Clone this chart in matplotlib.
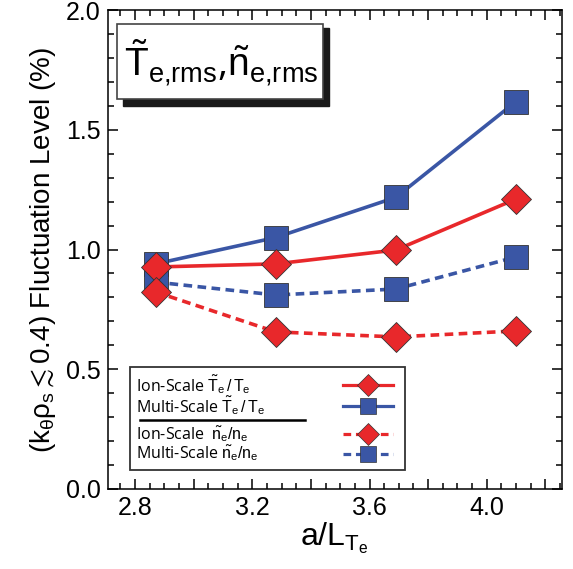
import matplotlib
matplotlib.use("Agg")
import matplotlib.pyplot as plt
from matplotlib.patches import Rectangle
from matplotlib.lines import Line2D
from matplotlib.ticker import MultipleLocator

plt.rcParams['font.family'] = ['Liberation Sans', 'DejaVu Sans']
plt.rcParams['mathtext.fontset'] = 'custom'
plt.rcParams['mathtext.rm'] = 'Liberation Sans'
plt.rcParams['mathtext.it'] = 'Liberation Sans'
plt.rcParams['mathtext.bf'] = 'Liberation Sans:bold'

# data
a_LTe = [2.87, 3.28, 3.69, 4.10]
ion_Te = [0.927, 0.94, 0.998, 1.211]
multi_Te = [0.94, 1.05, 1.218, 1.618]
ion_ne = [0.823, 0.656, 0.635, 0.66]
multi_ne = [0.864, 0.81, 0.835, 0.969]

xticks = [2.8, 3.0, 3.2, 3.4, 3.6, 3.8, 4.0, 4.2]
xticklabels = ['2.8', '', '3.2', '', '3.6', '', '4.0', '']
yticks = [0, 0.5, 1.0, 1.5, 2.0]
yticklabels = ['0.0', '0.5', '1.0', '1.5', '2.0']

labels = [r"Ion-Scale $\tilde{\mathrm{T}}_\mathrm{e}\,/\,\mathrm{T}_\mathrm{e}$",
          r"Multi-Scale $\tilde{\mathrm{T}}_\mathrm{e}\,/\,\mathrm{T}_\mathrm{e}$",
          r"Ion-Scale  $\tilde{\mathrm{n}}_\mathrm{e}/\mathrm{n}_\mathrm{e}$",
          r"Multi-Scale $\tilde{\mathrm{n}}_\mathrm{e}/\mathrm{n}_\mathrm{e}$"]

red = '#e8282b'
blue = '#3a56a5'
dash = (0, (2.4, 1.5))

fig = plt.figure(figsize=(5.73, 5.69), dpi=100)
ax = fig.add_axes([0.188, 0.1406, 0.792, 0.8418])

sq = dict(marker='s', markersize=17, markeredgecolor='#333333', markeredgewidth=0.6)
dm = dict(marker='D', markersize=15.5, markeredgecolor='#333333', markeredgewidth=0.6)

ax.plot(a_LTe, multi_Te, color=blue, lw=2.6, markerfacecolor=blue, **sq)
ax.plot(a_LTe, multi_ne, color=blue, lw=2.6, ls=dash, markerfacecolor=blue, **sq)
ax.plot(a_LTe, ion_Te, color=red, lw=2.6, markerfacecolor=red, **dm)
ax.plot(a_LTe, ion_ne, color=red, lw=2.6, ls=dash, markerfacecolor=red, **dm)

ax.set_xlim(2.707, 4.255)
ax.set_ylim(0, 2.0)
ax.set_xticks(xticks)
ax.set_xticklabels(xticklabels)
ax.xaxis.set_minor_locator(MultipleLocator(0.05))
ax.set_yticks(yticks)
ax.set_yticklabels(yticklabels)
ax.yaxis.set_minor_locator(MultipleLocator(0.1))
ax.tick_params(which='both', direction='in', top=True, right=True, labelsize=18, width=1.1)
ax.tick_params(which='major', length=7)
ax.tick_params(which='minor', length=4)
ax.tick_params(axis='x', pad=5)
ax.tick_params(axis='y', pad=5)
for s in ax.spines.values():
    s.set_linewidth(1.1)

ax.set_xlabel(r"$\mathrm{a/L}_{\mathrm{T}_\mathrm{e}}$", fontsize=23, labelpad=0)
ax.set_ylabel(r"$(\mathrm{k}_\theta\rho_\mathrm{s} \lesssim 0.4)$ Fluctuation Level (%)",
              fontsize=20, labelpad=6)

# legend drawn as a key box: text on the left, samples on the right
ax.add_patch(Rectangle((0.049, 0.040), 0.606, 0.215, transform=ax.transAxes,
                       facecolor='white', edgecolor='#333333', lw=1.3, zorder=5))
rows = [0.217, 0.174, 0.114, 0.074]
styles = [(red, '-', 'D', 11), (blue, '-', 's', 12), (red, dash, 'D', 11), (blue, dash, 's', 12)]
for yr, lab, (c, ls, m, ms) in zip(rows, labels, styles):
    ax.text(0.062, yr, lab, transform=ax.transAxes, fontsize=11.5, family='Open Sans',
            va='center', ha='left', zorder=6)
    ax.add_line(Line2D([0.518, 0.628], [yr, yr], transform=ax.transAxes, color=c, ls=ls,
                       lw=2.3, zorder=6))
    ax.add_line(Line2D([0.573], [yr], transform=ax.transAxes, marker=m, markersize=ms,
                       markerfacecolor=c, markeredgecolor='#333333', markeredgewidth=0.5,
                       ls='none', zorder=7))
ax.add_line(Line2D([0.071, 0.435], [0.145, 0.145], transform=ax.transAxes,
                   color='black', lw=1.8, zorder=6))

# title box with drop shadow
ax.add_patch(Rectangle((0.033, 0.80), 0.455, 0.163, transform=ax.transAxes,
                       facecolor='#1a1a1a', edgecolor='#1a1a1a', zorder=5))
ax.add_patch(Rectangle((0.020, 0.815), 0.455, 0.156, transform=ax.transAxes,
                       facecolor='white', edgecolor='#444444', lw=1.2, zorder=6))
ax.text(0.250, 0.890,
        r"$\tilde{\mathrm{T}}_{\mathrm{e{,}rms}}$,$\tilde{\mathrm{n}}_{\mathrm{e{,}rms}}$",
        transform=ax.transAxes, fontsize=28, ha='center', va='center', zorder=7,
        family='Open Sans')

fig.savefig('out.png', dpi=100)
